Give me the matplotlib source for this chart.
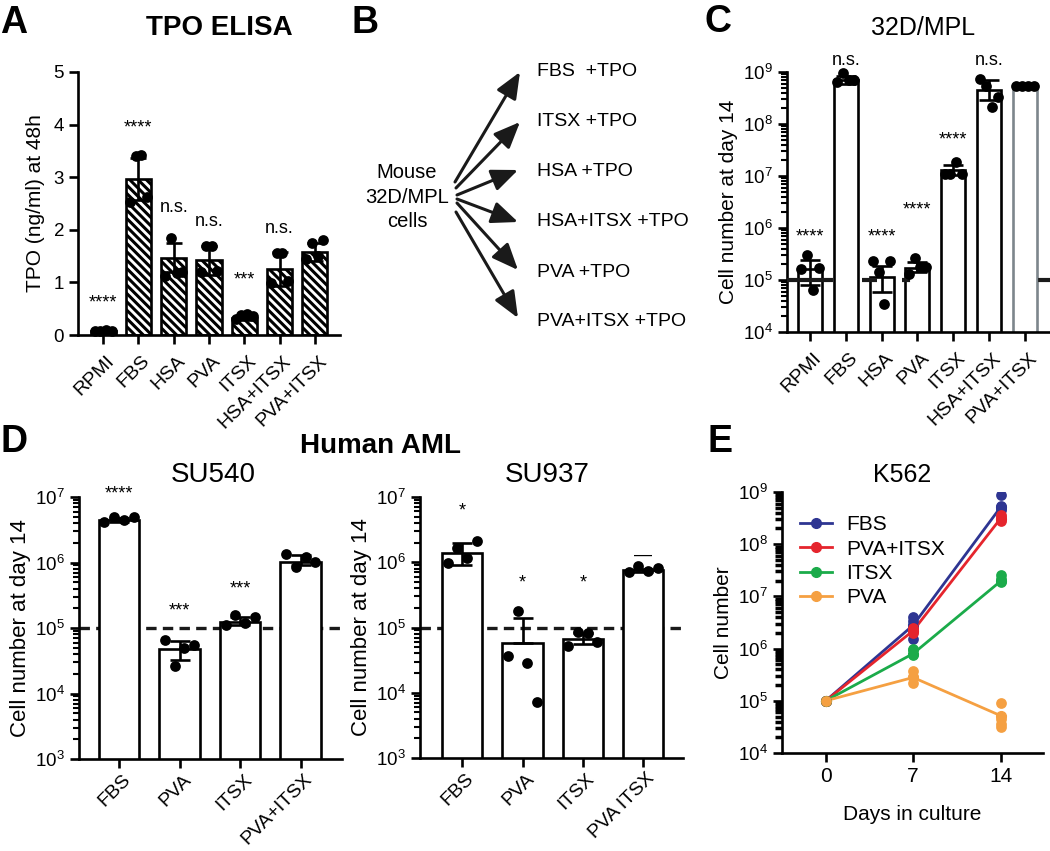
import numpy as np
import matplotlib
matplotlib.use('Agg')
import matplotlib.pyplot as plt
from matplotlib.ticker import LogLocator, NullFormatter, LogFormatterSciNotation
from matplotlib.transforms import ScaledTranslation

plt.rcParams['font.family'] = ['Liberation Sans', 'DejaVu Sans']
plt.rcParams['mathtext.fontset'] = 'custom'
plt.rcParams['mathtext.rm'] = 'Liberation Sans'
plt.rcParams['mathtext.it'] = 'Liberation Sans:italic'
plt.rcParams['mathtext.bf'] = 'Liberation Sans:bold'
plt.rcParams['hatch.linewidth'] = 2.2
plt.rcParams['lines.scale_dashes'] = False

# ---------------- data ----------------
# Panel A: TPO ELISA
a_groups = ['RPMI', 'FBS', 'HSA', 'PVA', 'ITSX', 'HSA+ITSX', 'PVA+ITSX']
a_means = [0.08, 2.97, 1.47, 1.42, 0.33, 1.25, 1.57]
a_sd = [0.01, 0.40, 0.28, 0.28, 0.05, 0.32, 0.17]
a_points = [[0.08, 0.08, 0.09, 0.08], [2.52, 3.40, 3.43, 2.62], [1.12, 1.85, 1.18, 1.20],
            [1.20, 1.70, 1.70, 1.22], [0.30, 0.38, 0.40, 0.36], [0.98, 1.55, 1.55, 1.02],
            [1.45, 1.75, 1.50, 1.80]]
a_sig = ['****', '****', 'n.s.', 'n.s.', '***', 'n.s.', '']
a_sig_y = [0.6, 3.93, 2.43, 2.15, 1.05, 2.03, 0]

# Panel B: scheme
b_source = ['Mouse', '32D/MPL', 'cells']
b_targets = ['FBS  +TPO', 'ITSX +TPO', 'HSA +TPO', 'HSA+ITSX +TPO', 'PVA +TPO', 'PVA+ITSX +TPO']

# Panel C: 32D/MPL at day 14
c_groups = ['RPMI', 'FBS', 'HSA', 'PVA', 'ITSX', 'HSA+ITSX', 'PVA+ITSX']
c_means = [1.6e5, 7.0e8, 1.15e5, 1.7e5, 1.3e7, 4.5e8, 5.4e8]
c_err_lo = [8.0e4, 6.0e8, 6.0e4, 1.4e5, 1.05e7, 2.9e8, 5.2e8]
c_err_hi = [2.4e5, 8.5e8, 1.9e5, 2.2e5, 1.6e7, 7.0e8, 5.6e8]
c_points = [[1.65e5, 3.0e5, 6.3e4, 1.7e5], [6.5e8, 9.5e8, 7.0e8, 7.0e8],
            [2.3e5, 1.4e5, 3.5e4, 2.3e5], [1.3e5, 2.6e5, 1.8e5, 1.8e5],
            [1.07e7, 1.1e7, 1.85e7, 1.07e7], [7.4e8, 5.5e8, 2.1e8, 3.3e8],
            [5.5e8, 5.5e8, 5.5e8, 5.5e8]]
c_sig = ['****', 'n.s.', '****', '****', '****', 'n.s.', '']
c_sig_y = [6.7e5, 1.66e9, 6.7e5, 2.2e6, 4.9e7, 1.66e9, 0]
c_baseline = 1e5

# Panel D: human AML
d_groups1 = ['FBS', 'PVA', 'ITSX', 'PVA+ITSX']
d1_means = [4.4e6, 4.7e4, 1.25e5, 1.02e6]
d1_err_lo = [4.2e6, 3.2e4, 1.1e5, 9.0e5]
d1_err_hi = [4.8e6, 6.4e4, 1.45e5, 1.3e6]
d1_points = [[4.2e6, 4.9e6, 4.4e6, 4.9e6], [6.5e4, 2.6e4, 4.9e4, 5.5e4],
             [1.1e5, 1.58e5, 1.18e5, 1.49e5], [1.37e6, 8.6e5, 1.22e6, 1.02e6]]
d1_sig = ['****', '***', '***', '']
d1_sig_y = [1.1e7, 1.8e5, 4.0e5, 0]

d_groups2 = ['FBS', 'PVA', 'ITSX', 'PVA ITSX']
d2_means = [1.39e6, 5.8e4, 6.6e4, 7.5e5]
d2_err_lo = [9.2e5, 5.8e4, 5.5e4, 7.2e5]
d2_err_hi = [2.0e6, 1.4e5, 8.2e4, 7.8e5]
d2_points = [[9.6e5, 1.66e6, 1.17e6, 2.15e6], [3.7e4, 1.78e5, 2.9e4, 7.2e3],
             [5.2e4, 8.6e4, 8.3e4, 6.0e4], [7.1e5, 8.7e5, 7.3e5, 8.2e5]]
d2_sig = ['*', '*', '*', '\u2014']
d2_sig_y = [6.1e6, 4.8e5, 4.8e5, 1.3e6]
d_baseline = 1e5

# Panel E: K562
e_days = [0, 7, 14]
e_series = ['FBS', 'PVA+ITSX', 'ITSX', 'PVA']
e_means = {'FBS': [1e5, 2.8e6, 5.1e8],
           'PVA+ITSX': [1e5, 2.2e6, 3.1e8],
           'ITSX': [1e5, 8.0e5, 1.95e7],
           'PVA': [1e5, 2.8e5, 5.2e4]}
e_points = {'FBS': [[1e5], [4.0e6, 3.4e6, 2.6e6, 1.5e6], [8.6e8, 5.5e8, 5.0e8, 4.5e8]],
            'PVA+ITSX': [[1e5], [2.5e6, 2.3e6, 2.0e6], [3.6e8, 3.3e8, 2.8e8]],
            'ITSX': [[1e5], [1.0e6, 9.2e5, 7.4e5], [2.6e7, 2.2e7, 1.9e7]],
            'PVA': [[1e5], [3.7e5, 2.8e5, 2.2e5], [9.0e4, 4.5e4, 3.6e4, 3.1e4]]}
e_colors = {'FBS': '#2e3592', 'PVA+ITSX': '#e5252d', 'ITSX': '#1bab4a', 'PVA': '#f5a042'}

# ---------------- layout helpers ----------------
W, H = 1050, 851
fig = plt.figure(figsize=(W / 100, H / 100), dpi=100)


def rect(l, t, r, b):
    return [l / W, 1 - b / H, (r - l) / W, (b - t) / H]


def ftext(x, y, s, **kw):
    fig.text(x / W, 1 - y / H, s, **kw)


LW = 1.9
TICK_FS = 13.5
LAB_FS = 15
offs = np.array([-0.24, -0.08, 0.08, 0.24])


def style_axes(ax):
    for s in ['top', 'right']:
        ax.spines[s].set_visible(False)
    for s in ['left', 'bottom']:
        ax.spines[s].set_linewidth(LW)
    ax.tick_params(which='major', direction='out', length=6.5, width=LW, labelsize=TICK_FS, colors='black')
    ax.tick_params(which='minor', direction='out', length=4, width=1.5)


def log_y(ax, lo, hi):
    ax.set_yscale('log')
    ax.set_ylim(lo, hi)
    ax.yaxis.set_major_locator(LogLocator(base=10, numticks=20))
    ax.yaxis.set_major_formatter(LogFormatterSciNotation())
    ax.yaxis.set_minor_locator(LogLocator(base=10, subs=np.arange(2, 10), numticks=20))
    ax.yaxis.set_minor_formatter(NullFormatter())


def xcat(ax, labels, fs=14, pad=6, dx=3):
    ax.set_xticks(range(len(labels)))
    ax.set_xticklabels(labels, rotation=45, ha='right', va='top', rotation_mode='anchor', fontsize=fs)
    ax.tick_params(axis='x', pad=pad)
    for lab in ax.get_xticklabels():
        lab.set_transform(lab.get_transform() + ScaledTranslation(dx / 100, 0, fig.dpi_scale_trans))


def bars_log(ax, means, lo, hi, points, width, edgecolors=None):
    x = np.arange(len(means))
    ec = edgecolors if edgecolors else ['black'] * len(means)
    ax.bar(x, means, width=width, color='white', edgecolor=ec, linewidth=LW, zorder=2)
    m = np.array(means)
    ax.errorbar(x, m, yerr=[m - np.array(lo), np.array(hi) - m], fmt='none', ecolor='black',
                elinewidth=LW, capsize=7, capthick=LW, zorder=4)
    for i, pts in enumerate(points):
        ax.scatter(i + offs[:len(pts)] * width / 0.67, pts, s=60, color='black', zorder=5,
                   clip_on=False, linewidths=0)


# ---------------- Panel A ----------------
axA = fig.add_axes(rect(78, 72, 340, 335))
style_axes(axA)
xa = np.arange(len(a_groups))
axA.bar(xa, a_means, width=0.71, color='white', edgecolor='black', hatch='\\\\\\\\',
        linewidth=LW, zorder=2)
axA.errorbar(xa, a_means, yerr=a_sd, fmt='none', ecolor='black', elinewidth=LW,
             capsize=6, capthick=LW, zorder=4)
for i, pts in enumerate(a_points):
    axA.scatter(i + offs, pts, s=60, color='black', zorder=5, clip_on=False, linewidths=0)
for i, s in enumerate(a_sig):
    if s:
        axA.text(i, a_sig_y[i], s, ha='center', va='center', fontsize=13)
axA.set_ylim(0, 5)
axA.set_yticks([0, 1, 2, 3, 4, 5])
axA.set_xlim(-0.71, 6.71)
xcat(axA, a_groups)
axA.set_ylabel('TPO (ng/ml) at 48h', fontsize=LAB_FS, labelpad=6)

# ---------------- Panel B ----------------
axB = fig.add_axes([0, 0, 1, 1], zorder=-1)
axB.set_xlim(0, W)
axB.set_ylim(H, 0)
axB.axis('off')
src_base = [178, 203, 227]
for s, yb in zip(b_source, src_base):
    axB.text(407, yb, s, ha='center', va='baseline', fontsize=14.5)
arrow_start = [(455, 182), (456, 188), (457, 195), (457, 199), (457, 203), (456, 212)]
arrow_end = [(520, 72), (520, 122), (518, 170), (518, 222), (518, 270), (518, 318)]
tgt_base = [76, 126, 176, 226, 277, 326]
for (s0, s1, t, yb) in zip(arrow_start, arrow_end, b_targets, tgt_base):
    axB.annotate('', xy=s1, xytext=s0,
                 arrowprops=dict(arrowstyle='-|>,head_length=1.0,head_width=0.42', lw=2.2,
                                 color='#1a1a1a', shrinkA=0, shrinkB=0, mutation_scale=16))
    axB.text(537, yb, t, ha='left', va='baseline', fontsize=14)

# ---------------- Panel C ----------------
axC = fig.add_axes(rect(787, 72, 1050, 332))
style_axes(axC)
log_y(axC, 1e4, 1e9)
cedge = ['black'] * 6 + ['#7d868c']
bars_log(axC, c_means, c_err_lo, c_err_hi, c_points, 0.67, cedge)
axC.axhline(c_baseline, color='#1a1a1a', lw=3, zorder=4.5,
            linestyle=(0, (33.1, 20.9, 10.8, 18.0, 5.8, 92.2)))
for i, s in enumerate(c_sig):
    if s:
        axC.text(i, c_sig_y[i], s, ha='center', va='center', fontsize=13, clip_on=False)
axC.set_xlim(-0.64, 6.7)
xcat(axC, c_groups)
axC.set_ylabel('Cell number at day 14', fontsize=LAB_FS, labelpad=4)

# ---------------- Panel D ----------------
for (rc, groups, means, lo, hi, pts, sig, sigy, xl) in [
        ((79, 497, 342, 759), d_groups1, d1_means, d1_err_lo, d1_err_hi, d1_points, d1_sig, d1_sig_y, (-0.66, 3.68)),
        ((420, 497, 683, 758), d_groups2, d2_means, d2_err_lo, d2_err_hi, d2_points, d2_sig, d2_sig_y, (-0.70, 3.66))]:
    ax = fig.add_axes(rect(*rc))
    style_axes(ax)
    log_y(ax, 1e3, 1e7)
    bars_log(ax, means, lo, hi, pts, 0.67)
    ax.axhline(d_baseline, color='#1a1a1a', lw=2.4, zorder=1, linestyle=(0, (7.5, 4.5)))
    for i, s in enumerate(sig):
        if s:
            ax.text(i, sigy[i], s, ha='center', va='center', fontsize=13, clip_on=False)
    ax.set_xlim(*xl)
    xcat(ax, groups, pad=2, dx=3)
    ax.set_ylabel('Cell number at day 14', fontsize=16, labelpad=3)

# ---------------- Panel E ----------------
axE = fig.add_axes(rect(782, 492, 1043, 753))
style_axes(axE)
log_y(axE, 1e4, 1e9)
axE.tick_params(which='minor', length=5, width=2.5)
for name in e_series:
    col = e_colors[name]
    axE.plot(e_days, e_means[name], color=col, lw=2, marker='o', ms=7, label=name, zorder=3)
    for d, pts in zip(e_days, e_points[name]):
        axE.scatter([d] * len(pts), pts, s=60, color=col, zorder=4, linewidths=0)
axE.set_xlim(-3.5, 17.4)
axE.set_xticks(e_days)
axE.tick_params(axis='x', labelsize=15)
axE.set_xlabel('Days in culture', fontsize=15, labelpad=14)
axE.set_ylabel('Cell number', fontsize=15, labelpad=4)
axE.legend(loc='upper left', bbox_to_anchor=(0.07, 0.91), frameon=False, fontsize=15,
           handlelength=1.5, handletextpad=0.7, labelspacing=0.25, borderpad=0, borderaxespad=0)

# ---------------- titles / panel letters ----------------
ftext(219, 35, 'TPO ELISA', ha='center', va='baseline', fontsize=20, fontweight='bold')
ftext(923, 35, '32D/MPL', ha='center', va='baseline', fontsize=18)
ftext(381, 453, 'Human AML', ha='center', va='baseline', fontsize=20, fontweight='bold')
ftext(213, 482, 'SU540', ha='center', va='baseline', fontsize=20)
ftext(547, 482, 'SU937', ha='center', va='baseline', fontsize=20)
ftext(902, 482, 'K562', ha='center', va='baseline', fontsize=18)
for letter, x, y in [('A', 14, 33), ('B', 365, 33), ('C', 718, 32), ('D', 14, 452), ('E', 720, 452)]:
    ftext(x, y, letter, ha='center', va='baseline', fontsize=27, fontweight='bold')

fig.savefig('out.png', dpi=100, facecolor='white')
